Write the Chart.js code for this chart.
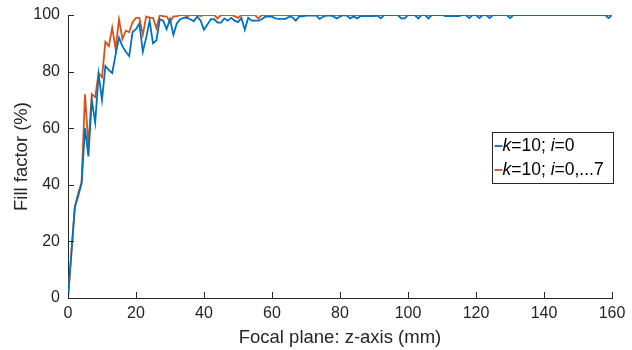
<!DOCTYPE html>
<html>
<head>
<meta charset="utf-8">
<script src="https://cdn.jsdelivr.net/npm/chart.js@4"></script>
<style>
  html, body { margin: 0; padding: 0; background: #ffffff; }
  #wrap { width: 632px; height: 350px; }
</style>
</head>
<body>
<div id="wrap"><canvas id="c" width="632" height="350"></canvas></div>
<script>
const zPositions = [
  0,1,2,3,4,5,6,7,8,9,10,11,12,13,14,15,16,17,18,19,20,
  21,22,23,24,25,26,27,28,29,30,31,32,33,34,35,36,37,38,39,40,
  41,42,43,44,45,46,47,48,49,50,51,52,53,54,55,56,57,58,59,60,
  61,62,63,64,65,66,67,68,69,70,71,72,73,74,75,76,77,78,79,80,
  81,82,83,84,85,86,87,88,89,90,91,92,93,94,95,96,97,98,99,100,
  101,102,103,104,105,106,107,108,109,110,111,112,113,114,115,116,117,118,119,120,
  121,122,123,124,125,126,127,128,129,130,131,132,133,134,135,136,137,138,139,140,
  141,142,143,144,145,146,147,148,149,150,151,152,153,154,155,156,157,158,159,160
];

const fillSingle = [
  0, 16, 32, 36, 40.5, 60, 50, 70, 62, 79, 70,
  82, 80.5, 79.5, 86, 92, 89, 87, 85.5, 94, 95,
  97, 87, 92, 98, 90, 91, 98.5, 98, 95, 98.5,
  93, 97, 98.5, 99, 99, 98.5, 97.8, 99.5, 98, 94.8,
  96.6, 98.5, 98.5, 97.3, 97.3, 98.8, 98, 99, 98, 97.5,
  99, 94.8, 99, 98, 98, 98, 98.5, 99.4, 99.4, 99.4,
  98.8, 98.6, 98.6, 98.6, 99.4, 99.2, 98, 99.5, 99.5, 99.8,
  99.8, 99.8, 99.8, 98.6, 99.4, 99.8, 99.8, 99.6, 98.8, 99.4,
  100, 99.8, 98.8, 99.5, 98.8, 99.6, 99.6, 99.6, 99.6, 99.6,
  99.8, 98.8, 100, 100, 100, 100, 100, 98.8, 98.8, 100,
  100, 100, 98.8, 100, 100, 98.8, 100, 100, 100, 100,
  99.6, 99.6, 99.6, 99.6, 99.6, 100, 100, 98.9, 100, 100,
  98.9, 100, 100, 98.9, 100, 100, 100, 100, 100, 98.9,
  100, 100, 100, 100, 100, 100, 100, 100, 100, 100,
  100, 100, 100, 100, 100, 100, 100, 100, 100, 100,
  100, 100, 100, 100, 100, 100, 100, 100, 98.9, 100
];

const fillMulti = [
  0, 16, 32, 37, 41, 72, 54, 72, 71, 79.5, 78,
  90.5, 89, 95.5, 88, 98.5, 91.5, 94.5, 94, 97.5, 99,
  99, 93, 99.5, 99, 99, 95.3, 100, 99.5, 99.5, 97.6,
  99.5, 99.5, 100, 100, 99.5, 100, 100, 100, 99.6, 100,
  100, 100, 100, 98.8, 100, 100, 100, 100, 99.6, 99,
  100, 100, 100, 100, 100, 98.8, 100, 100, 100, 100,
  100, 100, 100, 100, 100, 100, 100, 100, 100, 100,
  100, 100, 100, 100, 100, 100, 100, 100, 100, 100,
  100, 100, 100, 100, 100, 100, 100, 100, 100, 100,
  100, 100, 100, 100, 100, 100, 100, 100, 100, 100,
  100, 100, 100, 100, 100, 100, 100, 100, 100, 100,
  100, 100, 100, 100, 100, 100, 100, 100, 100, 100,
  100, 100, 100, 100, 100, 100, 100, 100, 100, 100,
  100, 100, 100, 100, 100, 100, 100, 100, 100, 100,
  100, 100, 100, 100, 100, 100, 100, 100, 100, 100,
  100, 100, 100, 100, 100, 100, 100, 100, 100, 100
];

const xTicks = [0, 20, 40, 60, 80, 100, 120, 140, 160];
const yTicks = [0, 20, 40, 60, 80, 100];

const seriesNames = [
  [["k", true], ["=10; ", false], ["i", true], ["=0", false]],
  [["k", true], ["=10; ", false], ["i", true], ["=0,...7", false]]
];
const seriesColors = ["#0072BD", "#D95319"];

const AX = "#262626";
const FONT = "'Liberation Sans', Arial, sans-serif";

function toPoints(xs, ys) { return xs.map((x, i) => ({ x: x, y: ys[i] })); }

const innerTicks = {
  id: 'innerTicks',
  afterDatasetsDraw(chart) {
    const ctx = chart.ctx;
    const xs = chart.scales.x, ys = chart.scales.y;
    const a = chart.chartArea;
    ctx.save();
    ctx.strokeStyle = AX;
    ctx.lineWidth = 1;
    ctx.beginPath();
    xTicks.forEach(v => {
      const px = Math.round(xs.getPixelForValue(v)) + 0.5;
      ctx.moveTo(px, a.bottom); ctx.lineTo(px, a.bottom - 6);
    });
    yTicks.forEach(v => {
      const py = Math.round(ys.getPixelForValue(v)) + 0.5;
      ctx.moveTo(a.left, py); ctx.lineTo(a.left + 6, py);
    });
    ctx.stroke();
    ctx.restore();
  }
};

const mathLegend = {
  id: 'mathLegend',
  afterDraw(chart) {
    const ctx = chart.ctx;
    const bx = 492.5, by = 132.5, bw = 121, bh = 51;
    ctx.save();
    ctx.fillStyle = "#ffffff";
    ctx.fillRect(bx, by, bw, bh);
    ctx.strokeStyle = AX;
    ctx.lineWidth = 1;
    ctx.strokeRect(bx, by, bw, bh);
    ctx.textBaseline = 'middle';
    seriesNames.forEach((parts, r) => {
      const cy = by + 13.5 + r * 24;
      ctx.strokeStyle = seriesColors[r];
      ctx.lineWidth = 1.8;
      ctx.beginPath();
      ctx.moveTo(bx + 2, cy); ctx.lineTo(bx + 10, cy);
      ctx.stroke();
      let x = bx + 10;
      ctx.fillStyle = "#000000";
      parts.forEach(([t, it]) => {
        ctx.font = (it ? "italic " : "") + "17.5px " + FONT;
        ctx.fillText(t, x, cy);
        x += ctx.measureText(t).width;
      });
    });
    ctx.restore();
  }
};

new Chart(document.getElementById('c'), {
  type: 'line',
  data: {
    datasets: [
      {
        label: 'k=10; i=0',
        data: toPoints(zPositions, fillSingle),
        borderColor: seriesColors[0],
        backgroundColor: seriesColors[0],
        borderWidth: 1.8,
        pointRadius: 0,
        tension: 0,
        fill: false
      },
      {
        label: 'k=10; i=0,...7',
        data: toPoints(zPositions, fillMulti),
        borderColor: seriesColors[1],
        backgroundColor: seriesColors[1],
        borderWidth: 1.8,
        pointRadius: 0,
        tension: 0,
        fill: false
      }
    ]
  },
  options: {
    responsive: false,
    animation: false,
    devicePixelRatio: 1,
    layout: { padding: { top: 15, right: 20, left: 0, bottom: 0 } },
    plugins: {
      legend: { display: false },
      tooltip: { enabled: false }
    },
    scales: {
      x: {
        type: 'linear',
        min: 0, max: 160,
        afterBuildTicks(s) { s.ticks = xTicks.map(v => ({ value: v })); },
        afterFit(s) { s.height = 52; s.paddingLeft = 0; s.paddingRight = 0; },
        grid: { display: false, drawTicks: false },
        border: { display: true, color: AX, width: 1 },
        ticks: { color: AX, font: { family: FONT, size: 16 }, padding: 6, maxRotation: 0, autoSkip: false },
        title: {
          display: true, text: 'Focal plane: z-axis (mm)', color: AX,
          font: { family: FONT, size: 18.5 }, padding: { top: 0, bottom: 1 }
        }
      },
      y: {
        type: 'linear',
        min: 0, max: 100,
        afterBuildTicks(s) { s.ticks = yTicks.map(v => ({ value: v })); },
        afterFit(s) { s.width = 68; s.paddingTop = 0; s.paddingBottom = 0; },
        grid: { display: false, drawTicks: false },
        border: { display: true, color: AX, width: 1 },
        ticks: { color: AX, font: { family: FONT, size: 16 }, padding: 8 },
        title: {
          display: true, text: 'Fill factor (%)', color: AX,
          font: { family: FONT, size: 18.5 }, padding: { top: 11, bottom: 0 }
        }
      }
    }
  },
  plugins: [innerTicks, mathLegend]
});
</script>
</body>
</html>
